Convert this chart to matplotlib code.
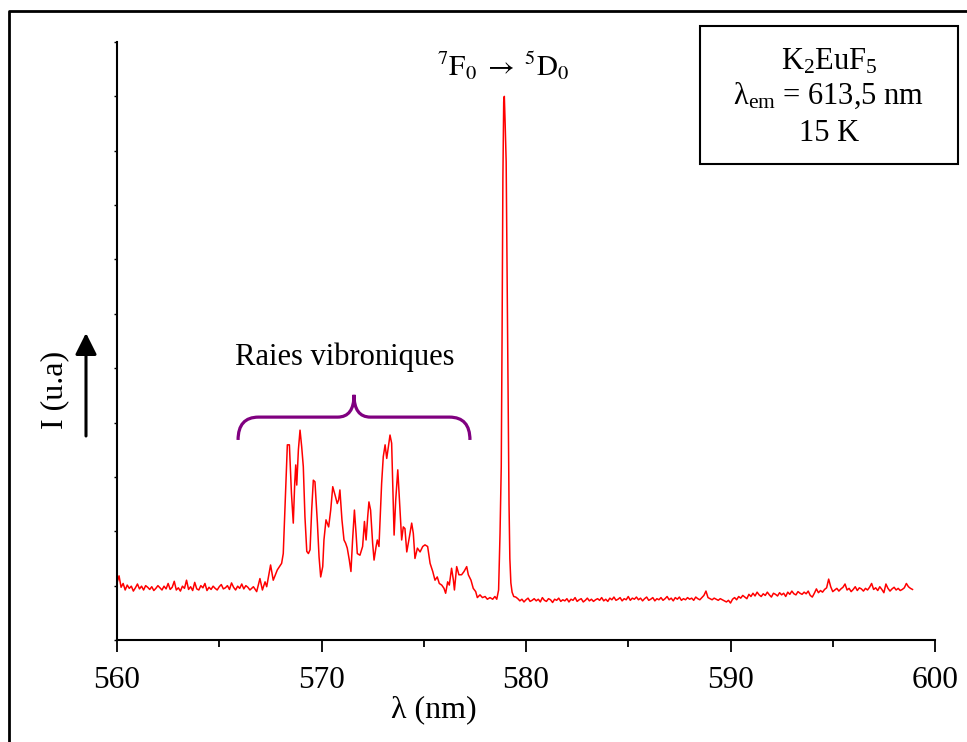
import numpy as np
import matplotlib
matplotlib.use('Agg')
import matplotlib.pyplot as plt
from matplotlib.path import Path
from matplotlib.patches import PathPatch, Rectangle, FancyArrowPatch
from matplotlib.lines import Line2D

plt.rcParams['font.family'] = ['Liberation Serif', 'DejaVu Serif']
plt.rcParams['mathtext.fontset'] = 'custom'
plt.rcParams['mathtext.rm'] = 'Liberation Serif'
plt.rcParams['mathtext.it'] = 'Liberation Serif:italic'
plt.rcParams['mathtext.bf'] = 'Liberation Serif:bold'

# ---- données lues sur le spectre (intensité en u.a., pic 7F0->5D0 = 1000) ----
# ligne de base avant les raies vibroniques (560.0 -> 566.4 nm, pas 0.1 nm)
base_gauche = [105, 118, 97, 104, 92, 101, 95, 99, 90, 96, 103, 94, 99, 92, 100,
               97, 93, 98, 91, 95, 100, 96, 92, 99, 94, 104, 93, 97, 108, 92,
               96, 90, 99, 95, 110, 93, 98, 91, 106, 94, 92, 100, 96, 104, 91,
               97, 93, 99, 95, 92, 98, 102, 94, 96, 100, 93, 105, 97, 92, 99,
               95, 103, 94, 100, 97]

# raies vibroniques + pic 7F0 -> 5D0 (longueur d'onde, intensité)
lambda_vib = [566.50, 566.67, 566.83, 566.99, 567.11, 567.24, 567.32, 567.51, 567.64, 567.84,
              568.05, 568.13, 568.23, 568.33, 568.43, 568.53, 568.62, 568.69, 568.74, 568.79,
              568.87, 568.95, 569.03, 569.11, 569.19, 569.28, 569.36, 569.44, 569.52, 569.60,
              569.68, 569.80, 569.88, 569.96, 570.06, 570.12, 570.22, 570.35, 570.45, 570.55,
              570.66, 570.77, 570.84, 570.90, 571.00, 571.10, 571.18, 571.26, 571.36, 571.44,
              571.52, 571.61, 571.69, 571.75, 571.88, 572.01, 572.10, 572.18, 572.26, 572.32,
              572.40, 572.50, 572.57, 572.67, 572.73, 572.81, 572.94, 573.02, 573.11, 573.19,
              573.27, 573.35, 573.43, 573.55, 573.63, 573.73, 573.84, 573.92, 574.00, 574.08,
              574.17, 574.30, 574.41, 574.49, 574.57, 574.69, 574.82, 574.95, 575.06, 575.19,
              575.31, 575.44, 575.55, 575.66, 575.76, 575.88, 575.99, 576.07, 576.17, 576.25,
              576.36, 576.45, 576.50, 576.61, 576.72, 576.85, 576.97, 577.10, 577.18, 577.31,
              577.42, 577.54, 577.62, 577.75, 577.87, 578.00, 578.11, 578.24, 578.37, 578.48,
              578.57, 578.66, 578.73, 578.79, 578.83, 578.87, 578.91, 578.94, 578.98, 579.03,
              579.08, 579.13, 579.17, 579.21, 579.26, 579.32, 579.40]
int_vib = [92, 98, 89, 113, 92, 107, 98, 138, 110, 129,
           141, 159, 258, 359, 359, 270, 215, 288, 322, 285,
           350, 386, 356, 319, 227, 163, 159, 166, 239, 294,
           291, 215, 153, 116, 135, 184, 221, 208, 239, 282,
           267, 251, 258, 276, 221, 184, 178, 169, 147, 126,
           184, 239, 196, 159, 156, 172, 218, 184, 227, 254,
           239, 178, 147, 172, 184, 172, 288, 337, 359, 334,
           356, 377, 362, 193, 258, 313, 239, 184, 208, 205,
           162, 190, 215, 196, 150, 169, 162, 172, 175, 172,
           141, 126, 110, 116, 104, 101, 95, 86, 107, 101,
           132, 110, 92, 135, 120, 120, 126, 135, 120, 110,
           95, 89, 78, 83, 78, 80, 75, 78, 75, 80,
           75, 92, 196, 319, 560, 850, 990, 1000, 950, 880,
           650, 420, 250, 150, 105, 88, 80]

# ligne de base après le pic (579.5 -> 598.9 nm, pas 0.1 nm)
base_droite = [79, 76, 72, 75, 70, 74, 77, 71, 73, 76,
               72, 75, 70, 78, 73, 71, 76, 74, 69, 75,
               73, 77, 71, 74, 72, 76, 70, 75, 73, 78,
               71, 74, 76, 70, 73, 77, 72, 75, 71, 74,
               76, 73, 78, 72, 75, 71, 77, 74, 79, 73,
               75, 78, 72, 76, 74, 80, 73, 77, 75, 79,
               74, 77, 72, 76, 79, 73, 75, 78, 72, 76,
               74, 78, 73, 76, 80, 74, 77, 72, 78, 75,
               79, 73, 76, 74, 78, 75, 77, 73, 79, 76,
               74, 78, 82, 90, 78, 76, 74, 77, 75, 73,
               76, 74, 72, 70, 73, 68, 75, 78, 74, 80,
               77, 82, 79, 76, 84, 80, 86, 81, 88, 83,
               80, 85, 82, 88, 83, 79, 86, 84, 81, 87,
               83, 86, 80, 88, 84, 90, 85, 83, 89, 86,
               84, 88, 85, 90, 82, 79, 86, 94, 87, 91,
               88, 93, 96, 112, 98, 89, 92, 95, 90, 94,
               97, 103, 92, 95, 89, 93, 98, 91, 96, 94,
               90, 95, 92, 97, 104, 93, 96, 91, 98, 93,
               87, 103, 95, 90, 94, 97, 92, 95, 91, 93,
               96, 104, 98, 95, 93]

x_ticks = [560, 570, 580, 590, 600]

lam = np.concatenate([np.linspace(560.0, 566.4, len(base_gauche)),
                      lambda_vib,
                      np.linspace(579.5, 598.9, len(base_droite))])
inten = np.concatenate([base_gauche, int_vib, base_droite])

# ---- figure ----
W, H = 967, 742
fig = plt.figure(figsize=(W / 100, H / 100), dpi=100)


def fx(px):
    return px / W


def fy(py):
    return 1 - py / H


ax = fig.add_axes([fx(117), fy(640), (935 - 117) / W, (640 - 42) / H])
ax.plot(lam, inten, color='red', lw=1.1)

ax.set_xlim(560, 600)
ax.set_ylim(0, 1100)
ax.spines['top'].set_visible(False)
ax.spines['right'].set_visible(False)
ax.spines['left'].set_linewidth(1.5)
ax.spines['bottom'].set_linewidth(1.5)
ax.set_xticks(x_ticks)
ax.set_xticks(np.arange(565, 600, 10), minor=True)
ax.set_yticks(np.arange(0, 1101, 100))
ax.set_yticklabels([])
ax.tick_params(axis='x', which='major', direction='out', length=8.5, width=1.3,
               labelsize=22.5, pad=10)
ax.tick_params(axis='x', which='minor', direction='out', length=5, width=1.3)
ax.tick_params(axis='y', direction='out', length=2.5, width=1.0)

# accolade des raies vibroniques
xa, xb, xc = 565.92, 577.26, 571.59
yb, yh, yt = 368, 410, 451
verts = [(xa, yb), (xa, yh), (xa + 1.0, yh),
         (xc - 0.8, yh), (xc, yh), (xc, yt),
         (xc, yh), (xc + 0.8, yh),
         (xb - 1.0, yh), (xb, yh), (xb, yb)]
codes = [Path.MOVETO, Path.CURVE3, Path.CURVE3,
         Path.LINETO, Path.CURVE3, Path.CURVE3,
         Path.CURVE3, Path.CURVE3,
         Path.LINETO, Path.CURVE3, Path.CURVE3]
ax.add_patch(PathPatch(Path(verts, codes), fill=False, edgecolor='#800080',
                       lw=2.3, capstyle='butt'))

ax.text(xc - 0.45, 505, 'Raies vibroniques', fontsize=22, ha='center',
        va='baseline')

# textes
fig.text(fx(503), fy(76),
         r'$^{7}\mathrm{F}_{0}\;\rightarrow\;{}^{5}\mathrm{D}_{0}$',
         fontsize=21, ha='center', va='baseline', math_fontfamily='stix')
fig.text(fx(434), fy(710), 'λ (nm)', fontsize=23, ha='center', va='center')
fig.text(fx(55), fy(390), 'I (u.a)', fontsize=23, ha='center', va='center',
         rotation=90)
fig.add_artist(FancyArrowPatch((fx(86), fy(436)), (fx(86), fy(333)),
                               transform=fig.transFigure,
                               arrowstyle='-|>,head_length=1.0,head_width=0.5',
                               mutation_scale=13, lw=2.2, color='black',
                               shrinkA=0, shrinkB=0))

# cadre de légende
fig.add_artist(Rectangle((fx(700), fy(164)), (958 - 700) / W, (164 - 26) / H,
                         transform=fig.transFigure, fill=False,
                         edgecolor='black', lw=1.5))
fig.text(fx(829), fy(70), r'K$_2$EuF$_5$', fontsize=22, ha='center',
         va='baseline')
fig.text(fx(829), fy(104), r'λ$_{\mathrm{em}}$ = 613,5 nm', fontsize=22,
         ha='center', va='baseline')
fig.text(fx(829), fy(141), '15 K', fontsize=22, ha='center', va='baseline')

# cadre extérieur (coupé à droite et en bas)
fig.add_artist(Line2D([fx(8.7), fx(8.7), 1.05], [-0.05, fy(10.7), fy(10.7)],
                      transform=fig.transFigure, color='black', lw=2.0))

fig.savefig('out.png', dpi=100)
